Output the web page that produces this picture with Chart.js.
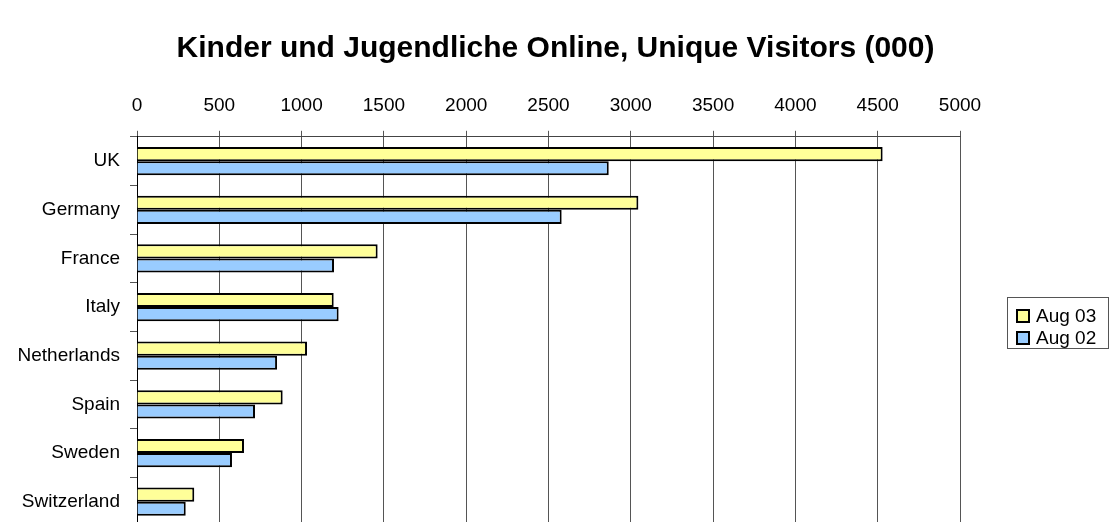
<!DOCTYPE html>
<html>
<head>
<meta charset="utf-8">
<script src="https://cdn.jsdelivr.net/npm/chart.js@4"></script>
<style>
  html, body { margin: 0; padding: 0; background: #fff; overflow: hidden; }
  #wrap { width: 1111px; height: 526px; }
</style>
</head>
<body>
<div id="wrap"><canvas id="myChart"></canvas></div>
<script>
        // Data
        const countries = ['UK', 'Germany', 'France', 'Italy', 'Netherlands', 'Spain', 'Sweden', 'Switzerland'];
        const aug03 = [4530, 3046, 1462, 1195, 1033, 885, 650, 348];
        const aug02 = [2866, 2580, 1197, 1225, 851, 717, 577, 296];
        const seriesNames = ['Aug 03', 'Aug 02'];
        const xTicks = [0, 500, 1000, 1500, 2000, 2500, 3000, 3500, 4000, 4500, 5000];

        const font = 'Liberation Sans, Arial, sans-serif';

        // right hand box: keeps room for the legend and draws it with a frame
        const boxLegend = {
            id: 'boxLegend',
            beforeInit(chart) {
                const box = {
                    position: 'right',
                    weight: 100,
                    fullSize: false,
                    options: {},
                    isHorizontal() { return false; },
                    update(maxWidth, maxHeight) {
                        this.width = 151;
                        this.height = maxHeight;
                        return { width: this.width, height: this.height };
                    },
                    draw() {
                        const ctx = chart.ctx;
                        const x = 1007, y = 297, w = 101, h = 51;
                        ctx.save();
                        ctx.strokeStyle = '#555';
                        ctx.lineWidth = 1;
                        ctx.strokeRect(x + 0.5, y + 0.5, w, h);
                        ctx.font = '19px ' + font;
                        ctx.textBaseline = 'middle';
                        chart.data.datasets.forEach((ds, i) => {
                            const cy = y + 19 + i * 22;
                            ctx.fillStyle = ds.backgroundColor;
                            ctx.fillRect(x + 10, cy - 6, 12, 12);
                            ctx.strokeStyle = '#000';
                            ctx.lineWidth = 2;
                            ctx.strokeRect(x + 10, cy - 6, 12, 12);
                            ctx.fillStyle = '#000';
                            ctx.fillText(ds.label, x + 29, cy + 1);
                        });
                        ctx.restore();
                    }
                };
                Chart.layouts.addBox(chart, box);
            }
        };

        const data = {
            labels: countries,
            datasets: [{
                label: seriesNames[0],
                data: aug03,
                backgroundColor: '#FFFF99',
                borderColor: '#000',
                borderWidth: 2,
                barPercentage: 1,
                categoryPercentage: 0.58
            }, {
                label: seriesNames[1],
                data: aug02,
                backgroundColor: '#99CCFF',
                borderColor: '#000',
                borderWidth: 2,
                barPercentage: 1,
                categoryPercentage: 0.58
            }]
        };

        const config = {
            type: 'bar',
            data: data,
            options: {
                indexAxis: 'y',
                responsive: true,
                maintainAspectRatio: false,
                animation: false,
                layout: { padding: 0 },
                plugins: {
                    legend: { display: false },
                    tooltip: { enabled: false },
                    title: {
                        display: true,
                        text: 'Kinder und Jugendliche Online, Unique Visitors (000)',
                        color: '#000',
                        font: { family: font, size: 30, weight: 'bold' },
                        padding: { top: 31, bottom: 13 }
                    }
                },
                scales: {
                    x: {
                        position: 'top',
                        min: 0,
                        max: 5000,
                        afterBuildTicks: (axis) => { axis.ticks = xTicks.map(v => ({ value: v })); },
                        ticks: {
                            color: '#000',
                            font: { family: font, size: 19 },
                            padding: 14,
                            maxRotation: 0,
                            callback: (v) => String(v)
                        },
                        grid: {
                            color: '#555',
                            lineWidth: 1,
                            tickLength: 6,
                            tickColor: '#555'
                        },
                        border: { color: '#444', width: 1 }
                    },
                    y: {
                        afterFit: (axis) => {
                            axis.width = 137;
                            axis.paddingTop = 0;
                            axis.paddingBottom = 0;
                        },
                        ticks: {
                            color: '#000',
                            font: { family: font, size: 19 },
                            padding: 10
                        },
                        grid: {
                            offset: true,
                            drawOnChartArea: false,
                            tickLength: 7,
                            color: '#555'
                        },
                        border: { color: '#000', width: 1 }
                    }
                }
            },
            plugins: [boxLegend]
        };

        // Render the chart
        var myChart = new Chart(
            document.getElementById('myChart'),
            config
        );
</script>
</body>
</html>
